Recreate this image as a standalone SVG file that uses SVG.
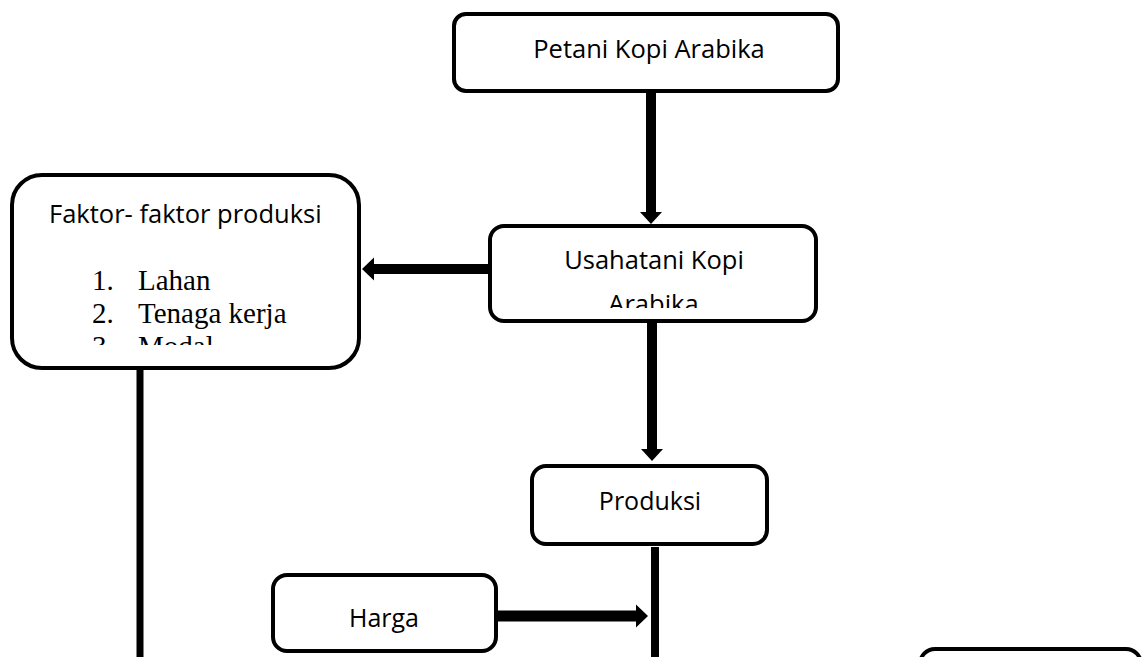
<svg xmlns="http://www.w3.org/2000/svg" width="1144" height="657" viewBox="0 0 1144 657">
<style>
.box{fill:#fff;stroke:#000;stroke-width:4}
.lbl{font-family:"Open Sans","Liberation Sans",sans-serif;font-size:25.5px;fill:#000}
.ser{font-family:"Liberation Serif","Times New Roman",serif;font-size:29px;fill:#000}
.c{text-anchor:middle}
</style>
<defs>
<clipPath id="clipU"><rect x="490" y="226" width="326" height="82"/></clipPath>
<clipPath id="clipF"><rect x="12" y="175" width="347" height="170"/></clipPath>
</defs>
<rect width="1144" height="657" fill="#fff"/>
<g id="connectors" fill="#000">
<rect x="646" y="92" width="10" height="121"/>
<polygon points="640,212 662,212 651,224"/>
<rect x="373" y="264" width="116" height="10"/>
<polygon points="374,257.5 374,280.5 362,269"/>
<rect x="647" y="322" width="10" height="128"/>
<polygon points="641,449 663,449 652,461"/>
<rect x="651" y="547" width="8" height="110"/>
<rect x="497" y="610.5" width="141" height="11"/>
<polygon points="636,604.5 636,627.5 648,616"/>
<rect x="136.5" y="369" width="7" height="288"/>
</g>
<g id="node-petani">
<rect class="box" x="454" y="14" width="384" height="77" rx="12"/>
<text class="lbl c" x="649" y="58">Petani Kopi Arabika</text>
</g>
<g id="node-usahatani">
<rect class="box" x="490" y="226" width="326" height="95" rx="14"/>
<text class="lbl c" x="654" y="269">Usahatani Kopi</text>
<text class="lbl c" x="653.5" y="313" clip-path="url(#clipU)">Arabika</text>
</g>
<g id="node-faktor">
<rect class="box" x="12" y="175" width="347" height="193" rx="30"/>
<text class="lbl" x="49" y="223">Faktor- faktor produksi</text>
<g clip-path="url(#clipF)">
<text class="ser" x="92" y="290">1.</text><text class="ser" x="138" y="290">Lahan</text>
<text class="ser" x="92" y="323">2.</text><text class="ser" x="138" y="323">Tenaga kerja</text>
<text class="ser" x="92" y="356">3.</text><text class="ser" x="138" y="356">Modal</text>
</g>
</g>
<g id="node-produksi">
<rect class="box" x="532" y="466" width="235" height="78" rx="14"/>
<text class="lbl c" x="650" y="510" style="font-size:25px">Produksi</text>
</g>
<g id="node-harga">
<rect class="box" x="273" y="575" width="223" height="76" rx="14"/>
<text class="lbl c" x="384" y="627" style="font-size:25px">Harga</text>
</g>
<g id="node-right">
<rect class="box" x="920" y="649" width="221" height="60" rx="15"/>
</g>
</svg>
